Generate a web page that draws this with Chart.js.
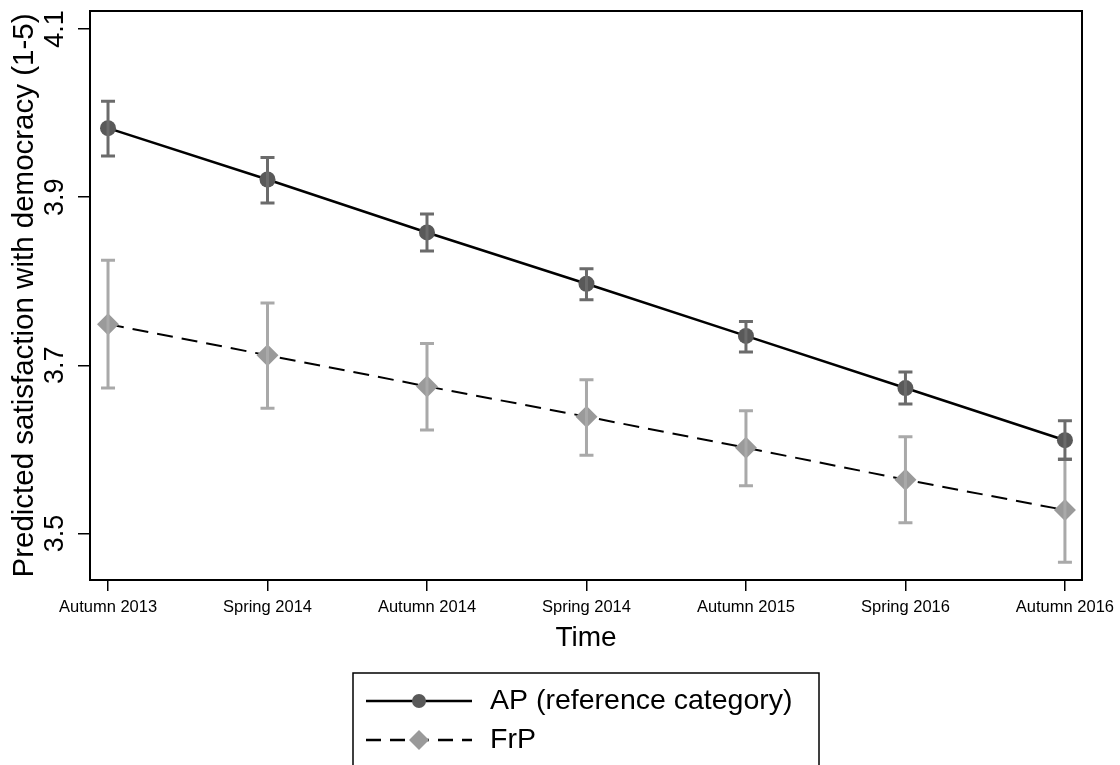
<!DOCTYPE html>
<html>
<head>
<meta charset="utf-8">
<title>Predicted satisfaction with democracy</title>
<script src="https://cdn.jsdelivr.net/npm/chart.js@4"></script>
<style>
  html, body { margin: 0; padding: 0; background: #ffffff; }
  #wrap { position: relative; width: 1120px; height: 765px; }
</style>
</head>
<body>
<div id="wrap"><canvas id="chart" width="1120" height="765"></canvas></div>
<script>
// data
var timeLabels = ["Autumn 2013", "Spring 2014", "Autumn 2014", "Spring 2014", "Autumn 2015", "Spring 2016", "Autumn 2016"];
var apValues = [3.982, 3.921, 3.858, 3.797, 3.735, 3.673, 3.611];
var apUpper  = [4.014, 3.947, 3.880, 3.815, 3.752, 3.692, 3.634];
var apLower  = [3.949, 3.893, 3.836, 3.778, 3.716, 3.654, 3.588];
var frpValues = [3.749, 3.712, 3.675, 3.639, 3.602, 3.564, 3.528];
var frpUpper  = [3.825, 3.774, 3.726, 3.683, 3.646, 3.615, 3.589];
var frpLower  = [3.673, 3.649, 3.623, 3.593, 3.557, 3.513, 3.466];
var yTicks = [3.5, 3.7, 3.9, 4.1];
var seriesNames = ["AP (reference category)", "FrP"];

var FONT = "'Liberation Sans', Arial, sans-serif";
var apMarker = "#595959";
var apBar = "#6b6b6b";
var frpMarker = "#9a9a9a";
var frpBar = "#a9a9a9";

function toPoints(vals){
    var pts = [];
    for (var i = 0; i < vals.length; i++) pts.push({x: i, y: vals[i]});
    return pts;
}

// error bars, drawn after the markers like in stata
var errorBars = {
    id: 'errorBars',
    afterDatasetsDraw: function(chart){
        var ctx = chart.ctx;
        var xs = chart.scales.x, ys = chart.scales.y;
        var sets = [[frpUpper, frpLower, frpBar], [apUpper, apLower, apBar]];
        ctx.save();
        ctx.lineWidth = 3;
        sets.forEach(function(s){
            ctx.strokeStyle = s[2];
            for (var i = 0; i < s[0].length; i++){
                var px = xs.getPixelForValue(i);
                var top = ys.getPixelForValue(s[0][i]);
                var bot = ys.getPixelForValue(s[1][i]);
                ctx.beginPath();
                ctx.moveTo(px, top); ctx.lineTo(px, bot);
                ctx.moveTo(px - 7, top); ctx.lineTo(px + 7, top);
                ctx.moveTo(px - 7, bot); ctx.lineTo(px + 7, bot);
                ctx.stroke();
            }
        });
        ctx.restore();
    }
};

// frame around the plot region + legend box underneath
var frameAndLegend = {
    id: 'frameAndLegend',
    afterDraw: function(chart){
        var ctx = chart.ctx;
        var a = chart.chartArea;
        ctx.save();
        ctx.strokeStyle = "#000";
        ctx.lineWidth = 2;
        ctx.strokeRect(a.left, a.top, a.right - a.left, a.bottom - a.top);

        // legend
        ctx.lineWidth = 1.5;
        ctx.strokeRect(353, 673, 466, 110);
        var rows = [701, 740];
        // AP row
        ctx.strokeStyle = "#000";
        ctx.lineWidth = 2.5;
        ctx.setLineDash([]);
        ctx.beginPath(); ctx.moveTo(366, rows[0]); ctx.lineTo(472, rows[0]); ctx.stroke();
        ctx.fillStyle = apMarker;
        ctx.beginPath(); ctx.arc(419, rows[0], 7, 0, Math.PI * 2); ctx.fill();
        // FrP row
        ctx.setLineDash([15, 9]);
        ctx.beginPath(); ctx.moveTo(366, rows[1]); ctx.lineTo(472, rows[1]); ctx.stroke();
        ctx.setLineDash([]);
        ctx.fillStyle = frpMarker;
        ctx.beginPath();
        ctx.moveTo(419, rows[1] - 10); ctx.lineTo(429, rows[1]);
        ctx.lineTo(419, rows[1] + 10); ctx.lineTo(409, rows[1]);
        ctx.closePath(); ctx.fill();

        ctx.fillStyle = "#000";
        ctx.font = "28.5px " + FONT;
        ctx.textBaseline = "middle";
        ctx.textAlign = "left";
        ctx.fillText(seriesNames[0], 490, rows[0]);
        ctx.fillText(seriesNames[1], 490, rows[1]);
        ctx.restore();
    }
};

var ctx = document.getElementById('chart').getContext('2d');
var chart = new Chart(ctx, {
    type: 'scatter',
    data: {
        datasets: [
            {
                label: seriesNames[0],
                data: toPoints(apValues),
                showLine: true,
                borderColor: "#000",
                borderWidth: 2.5,
                backgroundColor: apMarker,
                pointBackgroundColor: apMarker,
                pointBorderWidth: 0,
                pointRadius: 8,
                pointStyle: 'circle'
            },
            {
                label: seriesNames[1],
                data: toPoints(frpValues),
                showLine: true,
                borderColor: "#000",
                borderWidth: 2,
                borderDash: [16, 9],
                backgroundColor: frpMarker,
                pointBackgroundColor: frpMarker,
                pointBorderWidth: 0,
                pointRadius: 11,
                pointStyle: 'rectRot'
            }
        ]
    },
    options: {
        responsive: false,
        animation: false,
        events: [],
        layout: { padding: { left: 0, top: 8, right: 38, bottom: 110 } },
        plugins: {
            legend: { display: false },
            tooltip: { enabled: false }
        },
        scales: {
            x: {
                type: 'linear',
                min: -0.113,
                max: 6.107,
                afterBuildTicks: function(scale){
                    scale.ticks = timeLabels.map(function(l, i){ return {value: i}; });
                },
                afterFit: function(scale){
                    scale.height = 75;
                    scale.paddingLeft = 0;
                    scale.paddingRight = 0;
                },
                ticks: {
                    color: "#000",
                    font: { family: FONT, size: 16.5 },
                    padding: 7,
                    maxRotation: 0,
                    autoSkip: false,
                    callback: function(v){ return timeLabels[v]; }
                },
                grid: { drawOnChartArea: false, drawTicks: true, tickLength: 11, color: "#000", lineWidth: 1.5 },
                border: { display: true, color: "#000", width: 2 },
                title: {
                    display: true,
                    text: "Time",
                    color: "#000",
                    font: { family: FONT, size: 28 },
                    padding: { top: 0, bottom: 0 }
                }
            },
            y: {
                min: 3.4448,
                max: 4.1213,
                afterBuildTicks: function(scale){
                    scale.ticks = yTicks.map(function(v){ return {value: v}; });
                },
                afterFit: function(scale){
                    scale.width = 90;
                    scale.paddingTop = 0;
                    scale.paddingBottom = 0;
                },
                ticks: {
                    color: "#000",
                    font: { family: FONT, size: 27 },
                    minRotation: 90,
                    maxRotation: 90,
                    crossAlign: 'center',
                    padding: 4,
                    callback: function(v){ return v.toFixed(1); }
                },
                grid: { drawOnChartArea: false, drawTicks: true, tickLength: 12, color: "#000", lineWidth: 1.5 },
                border: { display: true, color: "#000", width: 2 },
                title: {
                    display: true,
                    text: "Predicted satisfaction with democracy (1-5)",
                    color: "#000",
                    font: { family: FONT, size: 29.5 },
                    padding: { top: 7, bottom: 0 }
                }
            }
        }
    },
    plugins: [errorBars, frameAndLegend]
});
</script>
</body>
</html>
